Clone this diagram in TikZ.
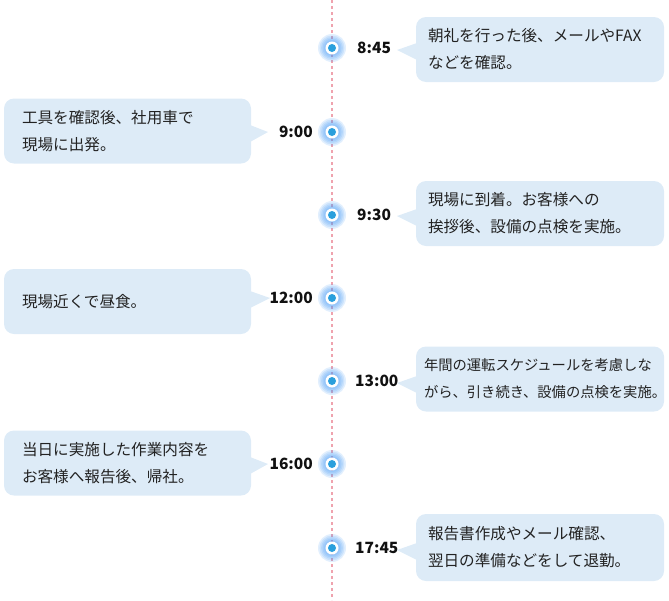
\documentclass[tikz,border=0pt]{standalone}
\usepackage{fontspec}
\setmainfont{Noto Sans CJK JP}
\begin{document}
\begin{tikzpicture}[x=1pt,y=-1pt,
  bubble/.style={fill=bubblefill,rounded corners=10pt,minimum height=65pt,inner xsep=12pt,inner ysep=0pt,
    text width=224pt,align=left,anchor=center,font=\fontsize{15.6}{27}\selectfont,text=textcol},
  lbubble/.style={bubble,inner xsep=18pt,text width=211pt},
  ptr/.style={fill=bubblefill},
  timelbl/.style={font=\bfseries\fontsize{15.5}{18}\selectfont,text=timecol,inner sep=0pt},
  tline/.style={draw=linepink,line width=2.5pt,dash pattern=on 3pt off 3pt},
  glow/.style={fill=glowblue,opacity=0.16,draw=none},
  ring/.style={circle,fill=white,minimum size=13pt,inner sep=0pt},
  core/.style={circle,fill=dotblue,minimum size=8pt,inner sep=0pt}]
\definecolor{bubblefill}{HTML}{DDEBF7}
\definecolor{textcol}{HTML}{222222}
\definecolor{timecol}{HTML}{111111}
\definecolor{linepink}{HTML}{EFA3AE}
\definecolor{glowblue}{HTML}{4A9CF5}
\definecolor{dotblue}{HTML}{2A9FDC}
\useasboundingbox (0,0) rectangle (669,600);
\coordinate (top) at (332,0);
\coordinate (bot) at (332,600);
\draw[tline] (top) -- (bot);
% dots
\foreach \n/\yy in {a/48,b/132,c/215,d/298,e/381,f/464,g/548}{
  \foreach \r in {14,12.5,11,9.5,8}{\fill[glow] (332,\yy) circle (\r);}
  \node[ring] (ring\n) at (332,\yy) {};
  \node[core] (dot\n) at (332,\yy) {};
}
% right entries
\node[timelbl,anchor=west] (ta) at (357,48) {8:45};
\node[bubble] (ba) at (540,49.5) {朝礼を行った後、メールやFAX\\などを確認。};
\fill[ptr] (397,50) -- (417,43) -- (417,60) -- cycle;

\node[timelbl,anchor=west] (tc) at (357,215) {9:30};
\node[bubble] (bc) at (540,213.5) {現場に到着。お客様への\\挨拶後、設備の点検を実施。};
\fill[ptr] (397,216) -- (417,209) -- (417,226) -- cycle;

\node[timelbl,anchor=west] (te) at (355,381) {13:00};
\node[bubble,inner xsep=8pt,text width=232pt,font=\fontsize{14.3}{27}\selectfont] (be) at (540,379) {年間の運転スケジュールを考慮しな\\がら、引き続き、設備の点検を実施。};
\fill[ptr] (397,383) -- (417,376) -- (417,393) -- cycle;

\node[timelbl,anchor=west] (tg) at (355,548) {17:45};
\node[bubble,minimum height=67pt] (bg) at (540,547.5) {報告書作成やメール確認、\\翌日の準備などをして退勤。};
\fill[ptr] (397,550) -- (417,543) -- (417,560) -- cycle;

% left entries
\node[timelbl,anchor=east] (tb) at (313,132) {9:00};
\node[lbubble] (bb) at (127.5,131) {工具を確認後、社用車で\\現場に出発。};
\fill[ptr] (268,132) -- (250,125) -- (250,142) -- cycle;

\node[timelbl,anchor=east] (td) at (313,298) {12:00};
\node[lbubble] (bd) at (127.5,301.5) {現場近くで昼食。};
\fill[ptr] (270,298) -- (250,291) -- (250,308) -- cycle;

\node[timelbl,anchor=east] (tf) at (313,464) {16:00};
\node[lbubble] (bf) at (127.5,463) {当日に実施した作業内容を\\お客様へ報告後、帰社。};
\fill[ptr] (268,464) -- (250,457) -- (250,474) -- cycle;
\end{tikzpicture}
\end{document}
